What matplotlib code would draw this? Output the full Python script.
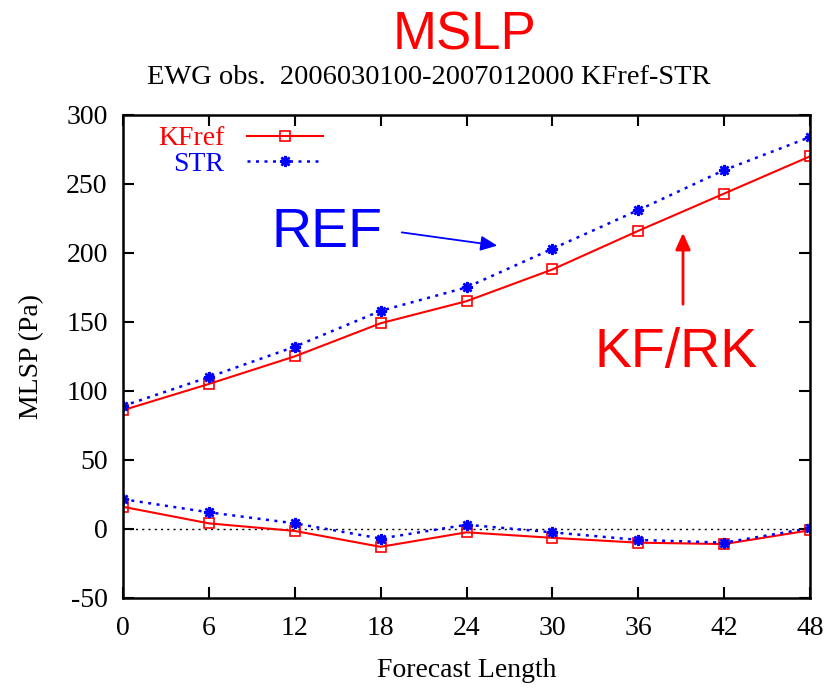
import matplotlib
matplotlib.use("Agg")
import matplotlib.pyplot as plt

plt.rcParams['axes.unicode_minus'] = False

# Forecast length (h)
hours = [0, 6, 12, 18, 24, 30, 36, 42, 48]

# rmse-like upper curves
kfref_upper = [86, 105, 125, 149, 165, 188, 216, 243, 270]
str_upper = [89, 110, 132, 158, 175, 203, 231, 260, 284]

# bias-like lower curves
kfref_lower = [16, 4, -1.5, -13, -2.5, -6.5, -10, -11, -1]
str_lower = [21.5, 12, 4, -7, 3, -2.5, -8, -10, 0.5]

SERIF = ['Liberation Serif', 'DejaVu Serif']
SANS = ['Liberation Sans', 'DejaVu Sans']
TICK_FS = 20

fig = plt.figure(figsize=(8.25, 6.88), dpi=100)
ax = fig.add_axes([0.149, 0.131, 0.833, 0.702])

red_kw = dict(color='red', lw=1.5, marker='s', markersize=7,
              markerfacecolor='none', markeredgecolor='red', markeredgewidth=1.2)
blue_kw = dict(color='blue', lw=1.8, ls=(0, (1.2, 2.2)), marker=(8, 2, 0),
               markersize=8, markeredgecolor='blue', markeredgewidth=1.8)

ax.axhline(0, color='black', lw=1, ls=(0, (1.5, 3)), zorder=1)

ax.plot(hours, kfref_upper, label='KFref', **red_kw)
ax.plot(hours, str_upper, label='STR', **blue_kw)
ax.plot(hours, kfref_lower, **red_kw)
ax.plot(hours, str_lower, **blue_kw)

ax.set_xlim(0, 48)
ax.set_ylim(-50, 300)
ax.set_xticks(hours)
ax.set_yticks(range(-50, 301, 50))
ax.tick_params(direction='in', length=8, width=1.5, top=True, right=True,
               labelsize=TICK_FS)
ax.tick_params(axis='x', pad=13)
ax.tick_params(axis='y', pad=11)
for lab in ax.get_xticklabels() + ax.get_yticklabels():
    lab.set_family(SERIF)
for sp in ax.spines.values():
    sp.set_linewidth(1.8)

ax.set_xlabel('Forecast Length', fontsize=TICK_FS, family=SERIF, labelpad=12)
ax.set_ylabel('MLSP (Pa)', fontsize=TICK_FS, family=SERIF, labelpad=16)

leg = ax.legend(loc='upper left', frameon=False, markerfirst=False,
                handlelength=2.75, handletextpad=0.8, labelspacing=0.0,
                borderaxespad=0.0, bbox_to_anchor=(0.035, 1.0),
                prop={'family': SERIF, 'size': TICK_FS},
                labelcolor=['red', 'blue'])
for t in leg.get_texts():
    t.set_ha('right')

# titles
fig.text(0.563, 1 - 50 / 688, 'MSLP', color='red', fontsize=38, family=SANS,
         ha='center', va='baseline')
fig.text(0.52, 1 - 78 / 688, 'EWG obs.  2006030100-2007012000 KFref-STR',
         fontsize=20.5, family=SERIF, ha='center', va='center')

# annotations
ax.annotate('', xy=(500, 688 - 246), xycoords='figure pixels',
            xytext=(399, 688 - 232), textcoords='figure pixels',
            arrowprops=dict(arrowstyle='-|>,head_length=1.0,head_width=0.45',
                            color='blue', lw=1.3))
fig.text(327 / 825, 1 - 247 / 688, 'REF', color='blue', fontsize=40,
         family=SANS, ha='center', va='baseline')

ax.annotate('', xy=(683, 688 - 230), xycoords='figure pixels',
            xytext=(683, 688 - 307), textcoords='figure pixels',
            arrowprops=dict(arrowstyle='-|>,head_length=1.0,head_width=0.45',
                            color='red', lw=2))
fig.text(676 / 825, 1 - 367 / 688, 'KF/RK', color='red', fontsize=40,
         family=SANS, ha='center', va='baseline')

fig.savefig('out.png', dpi=100)
